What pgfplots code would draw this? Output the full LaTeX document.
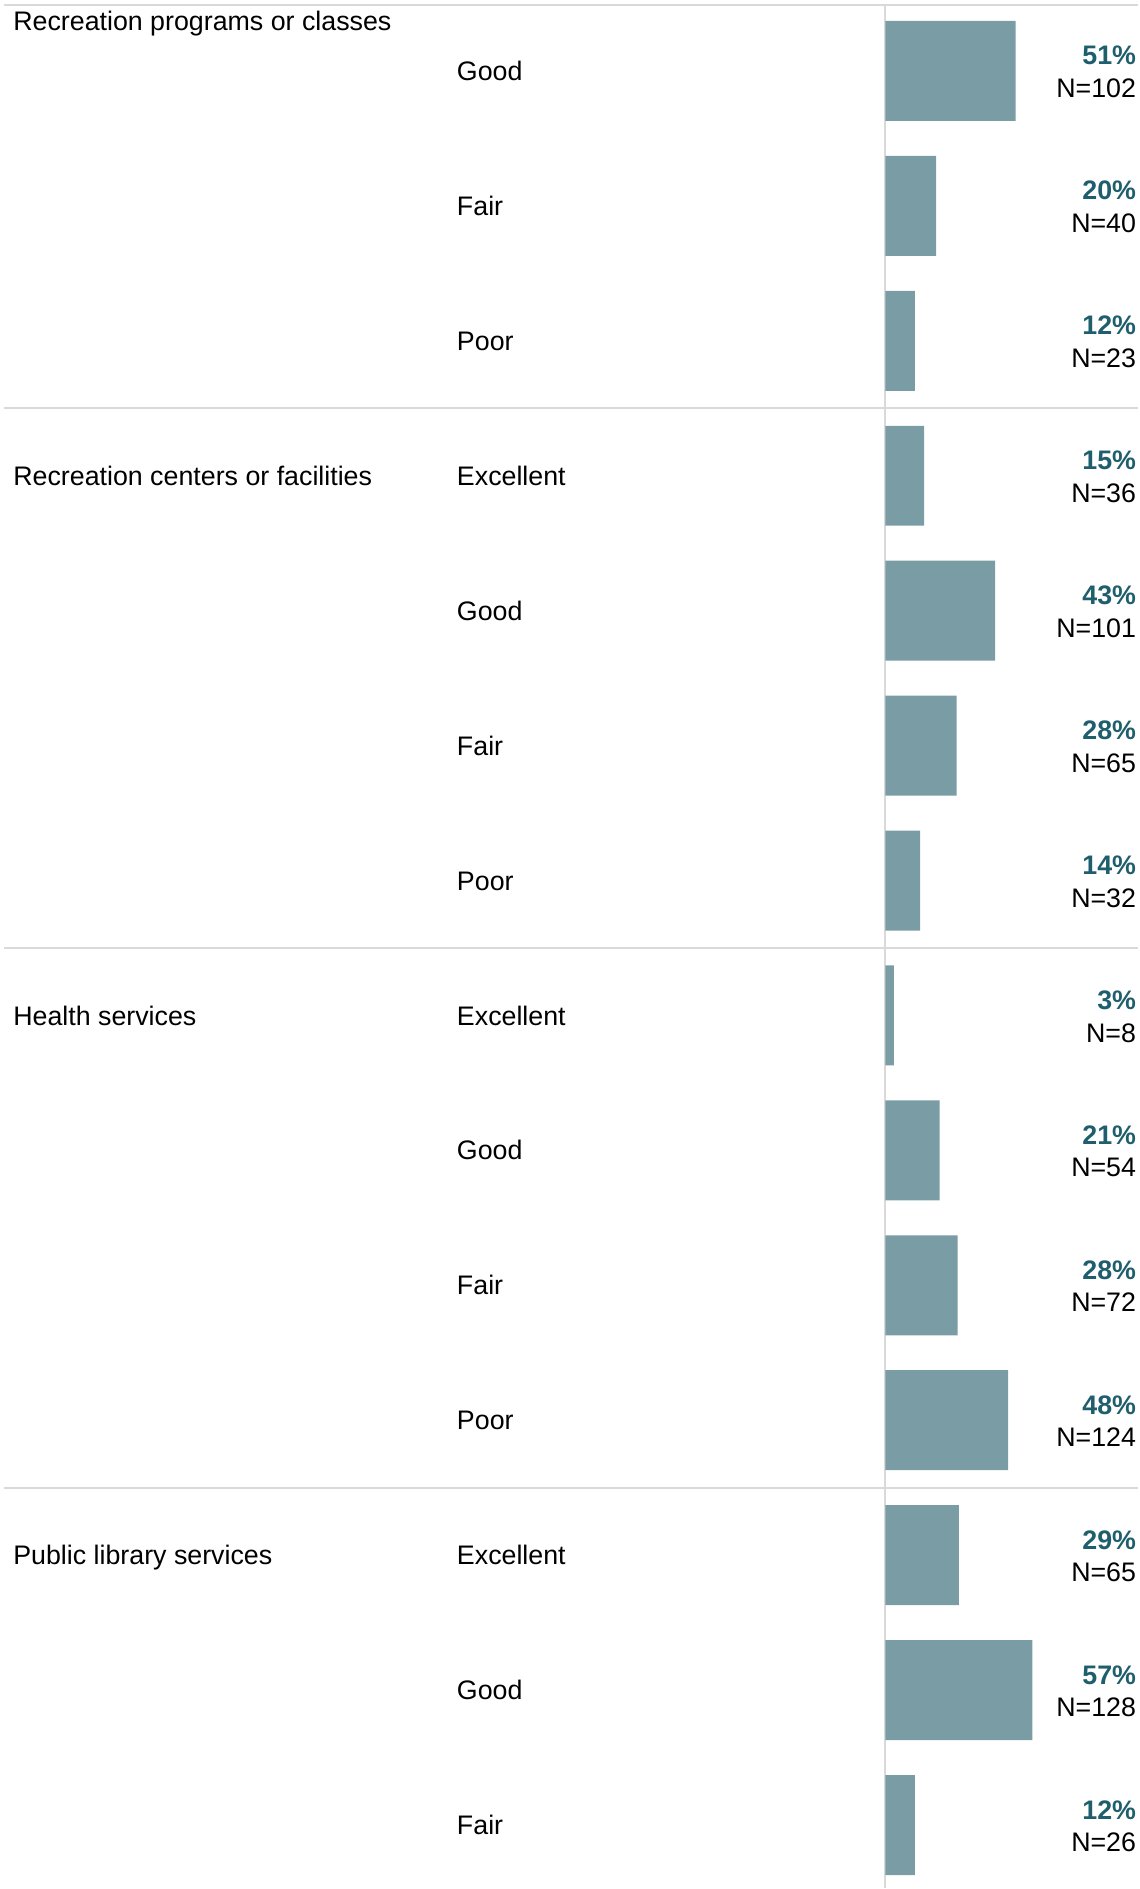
\documentclass[border=0pt]{standalone}
\usepackage{pgfplots}
\pgfplotsset{compat=1.18}
\usepackage{pgfplotstable}
\usepackage{fontspec}
\setmainfont{Liberation Sans}
\definecolor{barc}{RGB}{122,156,164}
\definecolor{pctc}{RGB}{31,94,108}
\definecolor{linec}{RGB}{217,217,217}

\pgfplotstableread{
y val
0 50.9
1 19.8
2 11.5
3 15.1
4 42.9
5 27.8
6 13.6
7 3.3
8 21.2
9 28.2
10 48.0
11 28.7
12 57.4
13 11.5
}\datatable

\newcommand{\rowlab}[4]{%
  \node[anchor=base west,inner sep=0pt,yshift=-4.8pt] at (axis cs:-167.6,#1) {#2};
  \node[anchor=base east,inner sep=0pt,yshift=3pt,text=pctc,font=\bfseries] at (axis cs:98.1,#1) {#3\%};
  \node[anchor=base east,inner sep=0pt,yshift=-13.3pt] at (axis cs:98.1,#1) {N=#4};
}

\begin{document}
\fontsize{13.4}{16}\selectfont
\begin{tikzpicture}
\begin{axis}[
  scale only axis,
  width=569.5pt, height=944.5pt,
  xmin=-346.05, xmax=98.87,
  ymin=-0.5259, ymax=13.467,
  y dir=reverse,
  axis lines=none,
  clip=false,
  font=\fontsize{13.4}{16}\selectfont,
]
\path (rel axis cs:0,0) rectangle (rel axis cs:1,1);
% separators
\draw[linec, line width=1pt] (axis cs:-344.5,-0.4904) -- (axis cs:98.87,-0.4904);
\draw[linec, line width=1pt] (axis cs:-344.5,2.5) -- (axis cs:98.87,2.5);
\draw[linec, line width=1pt] (axis cs:-344.5,6.5) -- (axis cs:98.87,6.5);
\draw[linec, line width=1pt] (axis cs:-344.5,10.5) -- (axis cs:98.87,10.5);
\draw[linec, line width=1pt] (axis cs:0,-0.4904) -- (axis cs:0,13.467);

\addplot[xbar, bar width=0.741, fill=barc, draw=none] table[x=val,y=y] {\datatable};

% group labels
\node[anchor=base west,inner sep=0pt] at (axis cs:-341,-0.3) {Recreation programs or classes};
\node[anchor=base west,inner sep=0pt,yshift=-4.8pt] at (axis cs:-341,3) {Recreation centers or facilities};
\node[anchor=base west,inner sep=0pt,yshift=-4.8pt] at (axis cs:-341,7) {Health services};
\node[anchor=base west,inner sep=0pt,yshift=-4.8pt] at (axis cs:-341,11) {Public library services};

\rowlab{0}{Good}{51}{102}
\rowlab{1}{Fair}{20}{40}
\rowlab{2}{Poor}{12}{23}
\rowlab{3}{Excellent}{15}{36}
\rowlab{4}{Good}{43}{101}
\rowlab{5}{Fair}{28}{65}
\rowlab{6}{Poor}{14}{32}
\rowlab{7}{Excellent}{3}{8}
\rowlab{8}{Good}{21}{54}
\rowlab{9}{Fair}{28}{72}
\rowlab{10}{Poor}{48}{124}
\rowlab{11}{Excellent}{29}{65}
\rowlab{12}{Good}{57}{128}
\rowlab{13}{Fair}{12}{26}
\end{axis}
\end{tikzpicture}
\end{document}
